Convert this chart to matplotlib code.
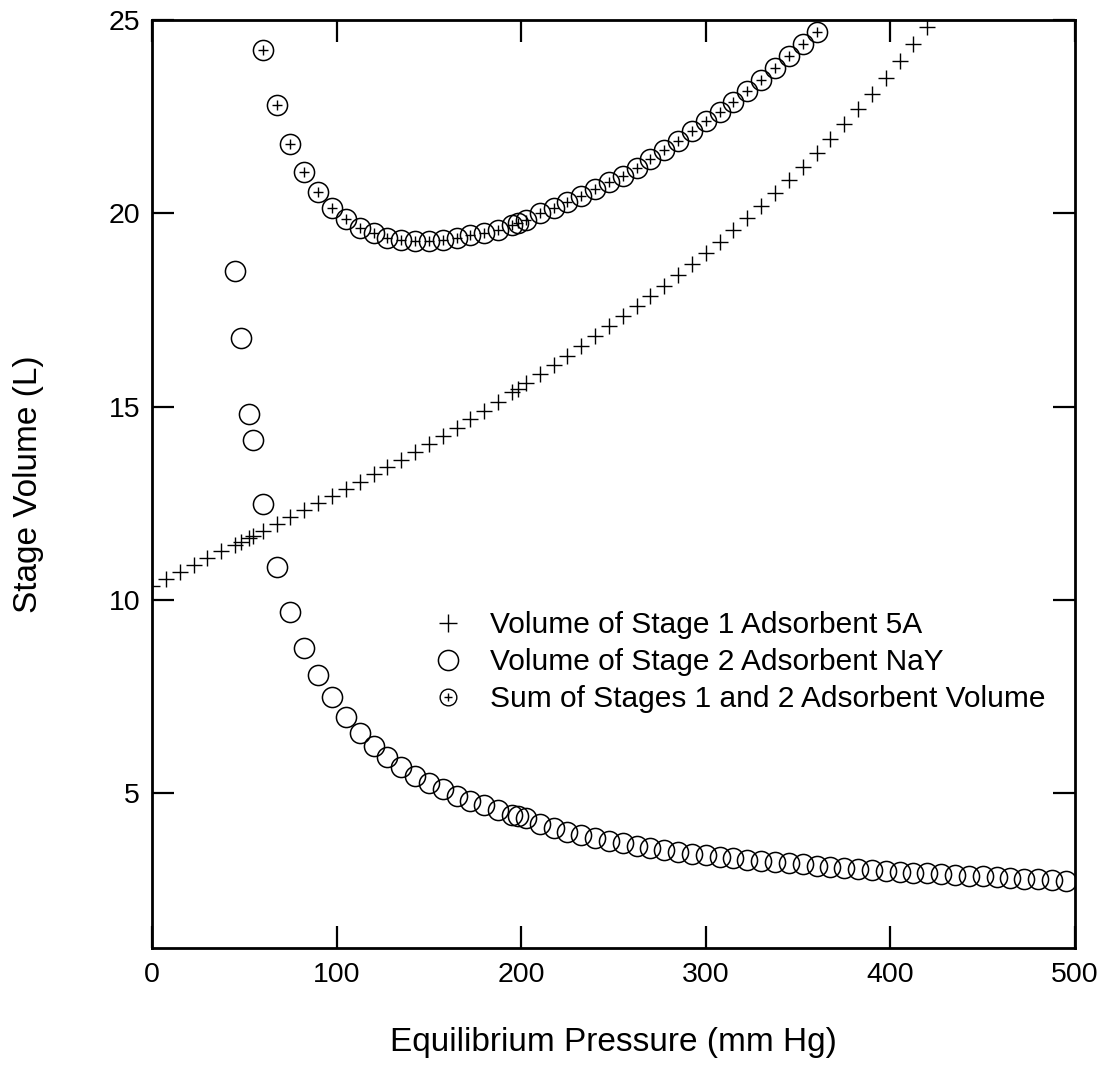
import matplotlib
matplotlib.use("Agg")
import matplotlib.pyplot as plt
from matplotlib.lines import Line2D

plt.rcParams['font.family'] = ['Liberation Sans', 'DejaVu Sans']

# ---- data ----
stage1_x = [0, 7.5, 15, 22.5, 30, 37.5, 45, 48, 52.5, 54.5, 60, 67.5, 75, 82.5, 90, 97.5,
            105, 112.5, 120, 127.5, 135, 142.5, 150, 157.5, 165, 172.5, 180, 187.5, 195,
            198, 202.5, 210, 217.5, 225, 232.5, 240, 247.5, 255, 262.5, 270, 277.5, 285,
            292.5, 300, 307.5, 315, 322.5, 330, 337.5, 345, 352.5, 360, 367.5, 375, 382.5,
            390, 397.5, 405, 412.5, 420]
stage1_v = [10.36, 10.54, 10.73, 10.91, 11.08, 11.26, 11.42, 11.50, 11.60, 11.65, 11.79,
            11.97, 12.15, 12.33, 12.51, 12.70, 12.88, 13.06, 13.25, 13.44, 13.63, 13.83,
            14.03, 14.24, 14.46, 14.68, 14.90, 15.13, 15.37, 15.46, 15.60, 15.84, 16.07,
            16.31, 16.56, 16.82, 17.08, 17.34, 17.60, 17.86, 18.13, 18.40, 18.68, 18.97,
            19.26, 19.56, 19.87, 20.19, 20.52, 20.86, 21.20, 21.55, 21.92, 22.30, 22.69,
            23.09, 23.50, 23.93, 24.37, 24.83]

stage2_x = [45, 48, 52.5, 54.5, 60, 67.5, 75, 82.5, 90, 97.5, 105, 112.5, 120, 127.5, 135,
            142.5, 150, 157.5, 165, 172.5, 180, 187.5, 195, 198, 202.5, 210, 217.5, 225,
            232.5, 240, 247.5, 255, 262.5, 270, 277.5, 285, 292.5, 300, 307.5, 315, 322.5,
            330, 337.5, 345, 352.5, 360, 367.5, 375, 382.5, 390, 397.5, 405, 412.5, 420,
            427.5, 435, 442.5, 450, 457.5, 465, 472.5, 480, 487.5, 495]
stage2_v = [18.50, 16.78, 14.82, 14.15, 12.48, 10.85, 9.68, 8.77, 8.05, 7.48, 6.98, 6.57,
            6.23, 5.93, 5.69, 5.46, 5.27, 5.10, 4.94, 4.81, 4.69, 4.58, 4.45, 4.41, 4.36,
            4.20, 4.10, 4.01, 3.93, 3.85, 3.78, 3.71, 3.65, 3.59, 3.54, 3.49, 3.44, 3.40,
            3.36, 3.32, 3.28, 3.25, 3.22, 3.19, 3.16, 3.13, 3.10, 3.07, 3.05, 3.02, 3.00,
            2.97, 2.95, 2.93, 2.91, 2.89, 2.87, 2.85, 2.83, 2.81, 2.79, 2.78, 2.76, 2.74]

sum_x = [60, 67.5, 75, 82.5, 90, 97.5, 105, 112.5, 120, 127.5, 135, 142.5, 150, 157.5, 165,
         172.5, 180, 187.5, 195, 198, 202.5, 210, 217.5, 225, 232.5, 240, 247.5, 255, 262.5,
         270, 277.5, 285, 292.5, 300, 307.5, 315, 322.5, 330, 337.5, 345, 352.5, 360]
sum_v = [24.23, 22.80, 21.79, 21.08, 20.54, 20.15, 19.85, 19.62, 19.48, 19.37, 19.31, 19.28,
         19.28, 19.32, 19.36, 19.43, 19.50, 19.58, 19.69, 19.74, 19.82, 20.00, 20.15, 20.30,
         20.46, 20.63, 20.80, 20.97, 21.17, 21.40, 21.64, 21.88, 22.13, 22.38, 22.62, 22.89,
         23.17, 23.46, 23.76, 24.06, 24.37, 24.70]

labels = ["Volume of Stage 1 Adsorbent 5A",
          "Volume of Stage 2 Adsorbent NaY",
          "Sum of Stages 1 and 2 Adsorbent Volume"]
x_ticks = [0, 100, 200, 300, 400, 500]
y_ticks = [5, 10, 15, 20, 25]

# ---- figure ----
W, H = 1109, 1076
fig = plt.figure(figsize=(W / 100, H / 100), dpi=100)
L, R, T, B = 152, 1075, 20, 948
ax = fig.add_axes([L / W, 1 - B / H, (R - L) / W, (B - T) / H])

ax.plot(stage1_x, stage1_v, linestyle='none', marker='+', ms=11.5, mew=1.0,
        color='black')
ax.plot(stage2_x, stage2_v, linestyle='none', marker='o', ms=14.5, mew=1.1,
        mfc='none', mec='black')
ax.plot(sum_x, sum_v, linestyle='none', marker='o', ms=14.5, mew=1.1,
        mfc='none', mec='black')
ax.plot(sum_x, sum_v, linestyle='none', marker='+', ms=7.5, mew=1.0, color='black')

ax.set_xlim(0, 500)
ax.set_ylim(1, 25)
ax.set_xticks(x_ticks)
ax.set_yticks(y_ticks)
ax.tick_params(direction='in', length=16, width=1.6, top=True, right=True,
               labelsize=20.5, colors='black')
ax.tick_params(axis='x', pad=10)
ax.tick_params(axis='y', pad=8.5)
for s in ax.spines.values():
    s.set_linewidth(2.0)

ax.set_xlabel("Equilibrium Pressure (mm Hg)", fontsize=24)
ax.set_ylabel("Stage Volume (L)", fontsize=24)
ax.xaxis.set_label_coords(0.5, (B - 1043) / (B - T))
ax.xaxis.label.set_va('center')
ax.yaxis.set_label_coords((28 - L) / (R - L), 0.5)
ax.yaxis.label.set_va('center')

h1 = Line2D([], [], linestyle='none', marker='+', ms=13, mew=1.0, color='black')
h2 = Line2D([], [], linestyle='none', marker='o', ms=14.5, mew=1.1, mfc='none', mec='black')
h3a = Line2D([], [], linestyle='none', marker='o', ms=12, mew=1.0, mfc='none', mec='black')
h3b = Line2D([], [], linestyle='none', marker='+', ms=6, mew=1.0, color='black')
leg = ax.legend([h1, h2, (h3a, h3b)], labels, loc='center left',
                bbox_to_anchor=((427 - L) / (R - L), (B - 662) / (B - T)),
                frameon=False, fontsize=21.5, handlelength=1.4, handletextpad=0.72,
                borderpad=0, borderaxespad=0, labelspacing=0.3)

fig.savefig("out.png", dpi=100)
